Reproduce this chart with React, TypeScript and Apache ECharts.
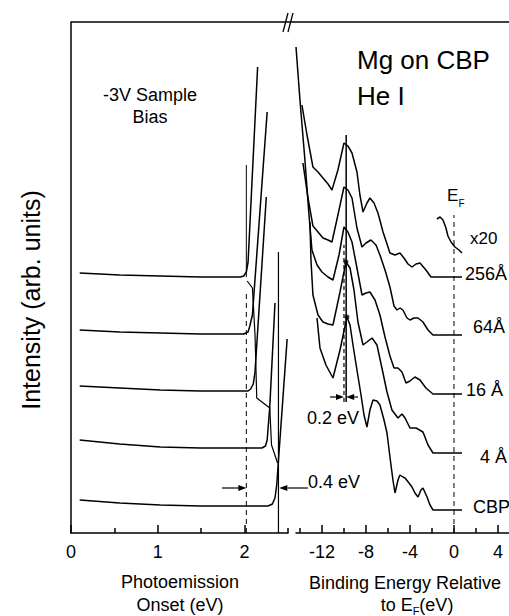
import React, { useEffect, useRef } from "react";
import * as echarts from "echarts";

const FONT = '"Liberation Sans", Arial, Helvetica, sans-serif';

// ---------- Left panel: photoemission onset (eV) vs intensity ----------
const l256E = [0.1, 0.56, 1.03, 1.49, 1.95, 1.99, 2.02, 2.04, 2.15];
const l256I = [260, 258, 257, 256, 256, 257, 261, 271, 466];
const l64E = [0.1, 0.56, 1.03, 1.49, 1.99, 2.04, 2.06, 2.09, 2.26];
const l64I = [203, 201, 200, 199, 199, 201, 207, 218, 421];
const l16E = [0.1, 0.56, 1.03, 1.49, 2.04, 2.07, 2.1, 2.12, 2.25];
const l16I = [147, 145, 143, 142, 142, 144, 149, 161, 336];
const l4E = [0.1, 0.56, 1.03, 1.49, 2.2, 2.24, 2.26, 2.29, 2.35];
const l4I = [93, 89, 86, 85, 85, 87, 93, 126, 230];
const lCbpE = [0.1, 0.56, 1.03, 1.49, 2.27, 2.32, 2.35, 2.37, 2.49];
const lCbpI = [33, 30, 28, 27, 27, 29, 35, 48, 194];
const edgeE = [2.02, 2.02];
const edgeI = [256, 368];
const tailE = [2.03, 2.09, 2.12, 2.14, 2.29, 2.31, 2.38];
const tailI = [252, 245, 198, 135, 125, 88, 70];
const onsetMg = 2.02;
const onsetCbp = 2.39;
const leftMajor = [0, 1, 2];
const leftMinor = [0.5, 1.5, 2.5];

// ---------- Right panel: binding energy relative to EF ----------
const r256E = [-13.82, -13.36, -12.82, -12.36, -11.91, -11.45, -11.09, -10.55, -10.0, -9.64, -9.27, -8.82, -8.55, -8.27, -7.91, -7.64, -7.27, -6.91, -6.45, -5.82, -5.36, -4.91, -4.55, -4.18, -3.82, -3.45, -3.09, -2.55, -2.09, 0.73];
const r256I = [428, 398, 366, 361, 355, 349, 343, 363, 390, 387, 380, 361, 338, 321, 330, 335, 330, 320, 301, 280, 278, 280, 275, 269, 266, 269, 270, 263, 256, 256];
const r64E = [-13.73, -13.27, -12.82, -12.36, -11.91, -11.45, -11.09, -10.55, -10.0, -9.64, -9.27, -8.82, -8.36, -8.0, -7.55, -7.09, -6.73, -6.27, -5.82, -5.45, -5.18, -4.91, -4.64, -4.27, -4.0, -3.64, -3.27, -2.82, -2.36, -1.91, 0.73];
const r64I = [370, 335, 307, 301, 295, 293, 291, 318, 346, 343, 335, 305, 286, 290, 293, 288, 278, 263, 246, 227, 223, 225, 223, 215, 213, 215, 215, 211, 203, 198, 198];
const r16E = [-14.36, -14.0, -13.55, -13.18, -12.91, -12.45, -12.0, -11.45, -11.0, -10.45, -10.0, -9.64, -9.27, -8.82, -8.36, -8.0, -7.64, -7.18, -6.73, -6.27, -5.82, -5.45, -5.09, -4.73, -4.36, -4.0, -3.55, -3.09, -2.55, -1.91, 0.73];
const r16I = [486, 433, 373, 318, 283, 268, 261, 256, 253, 278, 306, 301, 291, 265, 238, 240, 241, 233, 218, 196, 177, 165, 165, 161, 150, 152, 156, 153, 145, 139, 139];
const r4E = [-13.09, -13.0, -12.82, -12.36, -11.91, -11.45, -11.0, -10.36, -9.82, -9.45, -9.09, -8.73, -8.27, -7.91, -7.45, -7.0, -6.55, -6.09, -5.64, -5.09, -4.73, -4.45, -4.0, -3.45, -2.82, -2.36, -1.91, 0.73];
const r4I = [311, 273, 238, 218, 211, 209, 208, 241, 271, 265, 243, 211, 188, 191, 195, 188, 165, 141, 123, 115, 119, 115, 105, 105, 101, 88, 80, 80];
const rCbpE = [-12.45, -12.18, -11.64, -11.0, -10.36, -9.73, -9.45, -9.18, -8.82, -8.45, -8.18, -7.91, -7.64, -7.36, -7.0, -6.73, -6.36, -6.09, -5.82, -5.55, -5.36, -5.09, -4.91, -4.64, -4.45, -4.09, -3.82, -3.55, -3.27, -3.0, -2.82, -2.45, -2.18, -1.91, 0.73];
const rCbpI = [215, 185, 168, 155, 183, 216, 208, 188, 163, 138, 118, 106, 123, 133, 132, 128, 113, 100, 76, 53, 40, 53, 58, 56, 55, 50, 46, 40, 36, 43, 45, 36, 28, 23, 23];
const insetE = [-1.55, -1.27, -1.0, -0.73, -0.55, -0.27, 0.09, 0.45, 0.73];
const insetI = [314, 316, 313, 305, 297, 291, 286, 283, 280];
const peakSolidE = -9.8;
const peakDashE = -10.0;
const dotE = [-9.82, -9.73];
const dotI = [271, 216];
const rightMajor = [-12, -8, -4, 0, 4];
const rightMinor = [-14, -10, -6, -2, 2];

const zip = (xs: number[], ys: number[]) => xs.map((x, i) => [x, ys[i]]);

const BLACK = "#000";

function lineSeries(name: string, xs: number[], ys: number[], xi: number, yi: number, extra: any = {}) {
  return {
    name,
    type: "line",
    xAxisIndex: xi,
    yAxisIndex: yi,
    data: zip(xs, ys),
    showSymbol: false,
    symbol: "none",
    silent: true,
    clip: false,
    lineStyle: { color: BLACK, width: 1.5, ...(extra.lineStyle || {}) },
    z: extra.z || 2,
  };
}

function measure(text: string, size: number) {
  const c = document.createElement("canvas").getContext("2d");
  if (!c) return text.length * size * 0.55;
  c.font = `${size}px ${FONT}`;
  return c.measureText(text).width;
}

function txt(text: string, x: number, y: number, size: number, align = "left", extra: any = {}) {
  return {
    type: "text",
    x,
    y,
    rotation: extra.rotation || 0,
    style: {
      text,
      fill: BLACK,
      fontSize: size,
      fontFamily: FONT,
      align,
      verticalAlign: "middle",
    },
    silent: true,
  };
}

function arrow(from: number[], to: number[]) {
  const dx = to[0] - from[0];
  const dy = to[1] - from[1];
  const len = Math.hypot(dx, dy) || 1;
  const ux = dx / len;
  const uy = dy / len;
  const hl = 8;
  const hw = 3;
  const bx = to[0] - ux * hl;
  const by = to[1] - uy * hl;
  return [
    { type: "line", shape: { x1: from[0], y1: from[1], x2: bx, y2: by }, style: { stroke: BLACK, lineWidth: 1.2 }, silent: true },
    {
      type: "polygon",
      shape: { points: [[to[0], to[1]], [bx - uy * hw, by + ux * hw], [bx + uy * hw, by - ux * hw]] },
      style: { fill: BLACK },
      silent: true,
    },
  ];
}

export default function App() {
  const ref = useRef<HTMLDivElement>(null);

  useEffect(() => {
    if (!ref.current) return;
    const chart = echarts.init(ref.current, null, { renderer: "svg" });
    const axisLineStyle = { color: BLACK, width: 1.5 };
    const tickLabel = { color: BLACK, fontSize: 18, fontFamily: FONT, margin: 10 };

    const option: any = {
      animation: false,
      backgroundColor: "#fff",
      grid: [
        { left: 71, top: 22, width: 217, height: 511, containLabel: false },
        { left: 296, top: 22, width: 213, height: 511, containLabel: false },
      ],
      xAxis: [
        {
          gridIndex: 0, type: "value", min: 0, max: 2.5, position: "bottom",
          axisLine: { show: true, onZero: false, lineStyle: axisLineStyle },
          axisTick: { show: true, inside: true, length: 8, customValues: leftMajor, lineStyle: axisLineStyle },
          axisLabel: { show: true, customValues: leftMajor, ...tickLabel },
          splitLine: { show: false },
        },
        {
          gridIndex: 0, type: "value", min: 0, max: 2.5, position: "bottom",
          axisLine: { show: false, onZero: false },
          axisTick: { show: true, inside: true, length: 5, customValues: leftMinor, lineStyle: axisLineStyle },
          axisLabel: { show: false },
          splitLine: { show: false },
        },
        {
          gridIndex: 1, type: "value", min: -14.36, max: 5, position: "bottom",
          axisLine: { show: true, onZero: false, lineStyle: axisLineStyle },
          axisTick: { show: true, inside: true, length: 8, customValues: rightMajor, lineStyle: axisLineStyle },
          axisLabel: { show: true, customValues: rightMajor, ...tickLabel },
          splitLine: { show: false },
        },
        {
          gridIndex: 1, type: "value", min: -14.36, max: 5, position: "bottom",
          axisLine: { show: false, onZero: false },
          axisTick: { show: true, inside: true, length: 5, customValues: rightMinor, lineStyle: axisLineStyle },
          axisLabel: { show: false },
          splitLine: { show: false },
        },
      ],
      yAxis: [
        {
          gridIndex: 0, type: "value", min: 0, max: 511,
          axisLine: { show: true, onZero: false, lineStyle: axisLineStyle },
          axisTick: { show: false }, axisLabel: { show: false }, splitLine: { show: false },
        },
        {
          gridIndex: 1, type: "value", min: 0, max: 511, show: false,
          axisLine: { show: false, onZero: false }, splitLine: { show: false },
        },
      ],
      series: [
        lineSeries("L256", l256E, l256I, 0, 0),
        lineSeries("L64", l64E, l64I, 0, 0),
        lineSeries("L16", l16E, l16I, 0, 0),
        lineSeries("L4", l4E, l4I, 0, 0),
        lineSeries("LCBP", lCbpE, lCbpI, 0, 0),
        lineSeries("edge", edgeE, edgeI, 0, 0, { lineStyle: { width: 1 } }),
        lineSeries("tail", tailE, tailI, 0, 0, { lineStyle: { width: 1.2 } }),
        lineSeries("onsetMg", [onsetMg, onsetMg], [0, 243], 0, 0, { lineStyle: { width: 1, type: [5, 4] } }),
        lineSeries("onsetCbp", [onsetCbp, onsetCbp], [0, 281], 0, 0, { lineStyle: { width: 1.2 } }),
        lineSeries("R256", r256E, r256I, 2, 1),
        lineSeries("R64", r64E, r64I, 2, 1),
        lineSeries("R16", r16E, r16I, 2, 1),
        lineSeries("R4", r4E, r4I, 2, 1),
        lineSeries("RCBP", rCbpE, rCbpI, 2, 1),
        lineSeries("peakSolid", [peakSolidE, peakSolidE], [131, 398], 2, 1, { lineStyle: { width: 1.5 } }),
        lineSeries("peakDash", [peakDashE, peakDashE], [131, 288], 2, 1, { lineStyle: { width: 1.2, type: [4, 3] } }),
        lineSeries("EF", [0, 0], [0, 318], 2, 1, { lineStyle: { width: 1, type: [5, 4] } }),
        lineSeries("inset", insetE, insetI, 2, 1),
        {
          name: "dots", type: "scatter", xAxisIndex: 2, yAxisIndex: 1,
          data: zip(dotE, dotI), symbol: "circle", symbolSize: 5,
          itemStyle: { color: BLACK }, silent: true, z: 3,
        },
      ],
    };
    chart.setOption(option);

    const p0 = (x: number, y: number) => chart.convertToPixel({ gridIndex: 0 } as any, [x, y]) as number[];
    const p1 = (x: number, y: number) => chart.convertToPixel({ gridIndex: 1 } as any, [x, y]) as number[];

    const g: any[] = [];
    g.push({ type: "line", shape: { x1: 71, y1: 22, x2: 509, y2: 22 }, style: { stroke: BLACK, lineWidth: 1.5 }, silent: true });
    g.push({ type: "line", shape: { x1: 283, y1: 32, x2: 288, y2: 13 }, style: { stroke: BLACK, lineWidth: 1.3 }, silent: true });
    g.push({ type: "line", shape: { x1: 288, y1: 32, x2: 293, y2: 13 }, style: { stroke: BLACK, lineWidth: 1.3 }, silent: true });

    g.push(...arrow(p0(1.74, 45), p0(onsetMg, 45)));
    g.push(...arrow(p0(2.73, 45), p0(onsetCbp + 0.01, 45)));
    g.push(...arrow(p1(-11.27, 136), p1(peakDashE, 136)));
    g.push(...arrow(p1(-8.73, 136), p1(peakSolidE, 136)));

    g.push(txt("-3V Sample", 150, 95, 18, "center"));
    g.push(txt("Bias", 150, 117, 18, "center"));
    g.push(txt("Mg on CBP", 357, 60, 26));
    g.push(txt("He I", 357, 96, 26));
    g.push(txt("x20", 470, 238, 17));
    g.push(txt("E", 447, 195, 17));
    g.push(txt("F", 458.5, 203, 10));
    g.push(txt("256Å", 465, 274, 18));
    g.push(txt("64Å", 473, 327, 18));
    g.push(txt("16 Å", 466, 390, 18));
    g.push(txt("4 Å", 480, 457, 18));
    g.push(txt("CBP", 473, 507, 18));
    g.push(txt("0.4 eV", 308, 482, 18));
    g.push(txt("0.2 eV", 307, 418, 18));
    g.push(txt("Photoemission", 180, 582, 18, "center"));
    g.push(txt("Onset (eV)", 180, 605, 18, "center"));
    g.push(txt("Binding Energy Relative", 405, 583, 18, "center"));
    const w1 = measure("to E", 18);
    const w2 = measure("F", 11);
    const w3 = measure("(eV)", 18);
    const sx = 417 - (w1 + w2 + w3) / 2;
    g.push(txt("to E", sx, 605, 18));
    g.push(txt("F", sx + w1, 611, 11));
    g.push(txt("(eV)", sx + w1 + w2, 605, 18));
    g.push(txt("Intensity (arb. units)", 31, 300, 25, "center", { rotation: Math.PI / 2 }));

    chart.setOption({ graphic: g });

    return () => chart.dispose();
  }, []);

  return (
    <div
      ref={ref}
      style={{ position: "fixed", left: 0, top: 0, width: 509, height: 616, background: "#fff" }}
    />
  );
}
